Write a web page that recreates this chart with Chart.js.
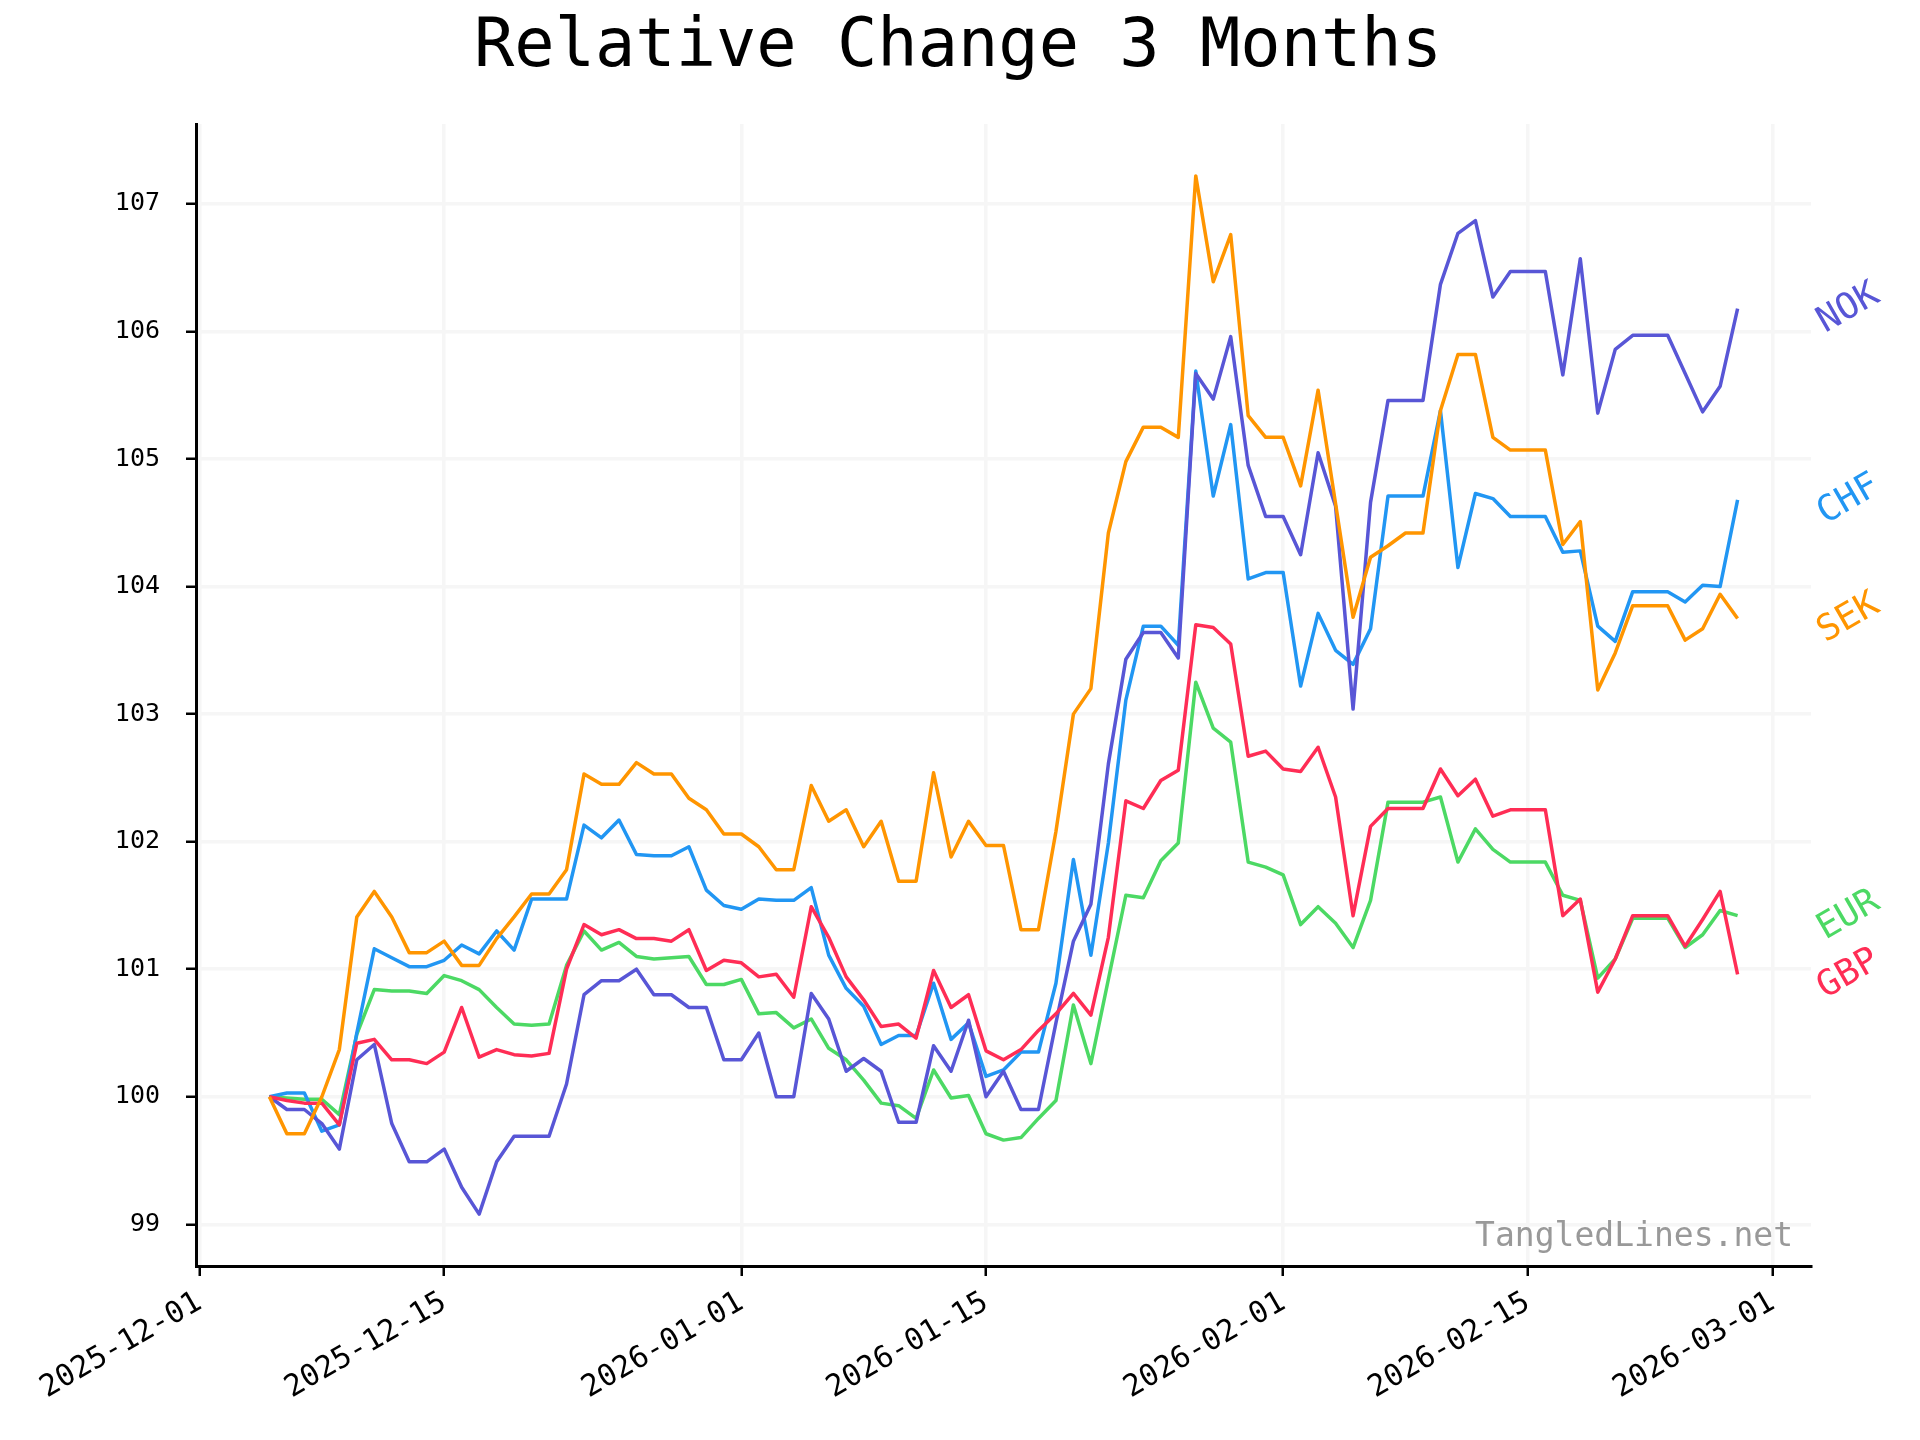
<!DOCTYPE html>
<html><head><meta charset="utf-8">
<script src="https://cdn.jsdelivr.net/npm/chart.js@4/dist/chart.umd.min.js"></script>
<style>html,body{margin:0;padding:0;background:#fff}canvas{display:block}</style>
</head><body>
<canvas id="c" width="1920" height="1440" style="width:1920px;height:1440px"></canvas>
<script>
// ---- data (daily, starting 2025-12-05) ----
const startDate = '2025-12-05';
const NOK = [100.0,99.9,99.9,99.79,99.59,100.29,100.41,99.79,99.49,99.49,99.59,99.29,99.08,99.49,99.69,99.69,99.69,100.10,100.80,100.91,100.91,101.0,100.80,100.80,100.70,100.70,100.29,100.29,100.50,100.0,100.0,100.81,100.61,100.20,100.30,100.20,99.80,99.80,100.40,100.20,100.60,100.0,100.20,99.90,99.90,100.58,101.22,101.51,102.61,103.43,103.64,103.64,103.44,105.67,105.47,105.96,104.95,104.55,104.55,104.25,105.05,104.63,103.04,104.66,105.46,105.46,105.46,106.37,106.77,106.87,106.27,106.47,106.47,106.47,105.66,106.57,105.36,105.86,105.97,105.97,105.97,105.67,105.37,105.57,106.18];
const CHF = [100.0,100.03,100.03,99.73,99.78,100.5,101.16,101.09,101.02,101.02,101.07,101.19,101.12,101.30,101.15,101.55,101.55,101.55,102.13,102.03,102.17,101.90,101.89,101.89,101.96,101.62,101.50,101.47,101.55,101.54,101.54,101.64,101.11,100.85,100.71,100.41,100.48,100.48,100.89,100.45,100.58,100.16,100.21,100.35,100.35,100.89,101.86,101.11,101.99,103.11,103.69,103.69,103.54,105.69,104.71,105.27,104.06,104.11,104.11,103.22,103.79,103.50,103.39,103.67,104.71,104.71,104.71,105.38,104.15,104.73,104.69,104.55,104.55,104.55,104.27,104.28,103.69,103.57,103.96,103.96,103.96,103.88,104.01,104.00,104.68];
const SEK = [100.0,99.71,99.71,100.0,100.37,101.41,101.61,101.41,101.13,101.13,101.22,101.03,101.03,101.24,101.41,101.59,101.59,101.78,102.53,102.45,102.45,102.62,102.53,102.53,102.34,102.25,102.06,102.06,101.96,101.78,101.78,102.44,102.16,102.25,101.96,102.16,101.69,101.69,102.54,101.88,102.16,101.97,101.97,101.31,101.31,102.08,103.0,103.2,104.42,104.98,105.25,105.25,105.17,107.22,106.39,106.76,105.34,105.17,105.17,104.79,105.54,104.65,103.76,104.23,104.32,104.42,104.42,105.38,105.82,105.82,105.17,105.07,105.07,105.07,104.33,104.51,103.19,103.48,103.85,103.85,103.85,103.58,103.67,103.94,103.75];
const EUR = [100.0,99.99,99.98,99.98,99.86,100.49,100.84,100.83,100.83,100.81,100.95,100.91,100.84,100.70,100.57,100.56,100.57,101.03,101.30,101.15,101.21,101.10,101.08,101.09,101.10,100.88,100.88,100.92,100.65,100.66,100.54,100.61,100.38,100.29,100.13,99.95,99.93,99.83,100.21,99.99,100.01,99.71,99.66,99.68,99.83,99.97,100.72,100.26,100.92,101.58,101.56,101.85,101.99,103.25,102.89,102.78,101.84,101.80,101.74,101.35,101.49,101.36,101.17,101.54,102.31,102.31,102.31,102.35,101.84,102.10,101.94,101.84,101.84,101.84,101.58,101.54,100.93,101.08,101.40,101.40,101.40,101.17,101.27,101.46,101.42];
const GBP = [100.0,99.97,99.95,99.95,99.78,100.42,100.45,100.29,100.29,100.26,100.35,100.70,100.31,100.37,100.33,100.32,100.34,101.0,101.35,101.27,101.31,101.24,101.24,101.22,101.31,100.99,101.07,101.05,100.94,100.96,100.78,101.49,101.25,100.94,100.76,100.55,100.57,100.46,100.99,100.70,100.80,100.36,100.29,100.37,100.52,100.65,100.81,100.64,101.25,102.32,102.26,102.48,102.56,103.70,103.68,103.55,102.67,102.71,102.57,102.55,102.74,102.35,101.42,102.12,102.26,102.26,102.26,102.57,102.36,102.49,102.20,102.25,102.25,102.25,101.42,101.55,100.82,101.08,101.42,101.42,101.42,101.18,101.39,101.61,100.96];

const yTicks = [99,100,101,102,103,104,105,106,107];
const xTickLabels = ['2025-12-01','2025-12-15','2026-01-01','2026-01-15','2026-02-01','2026-02-15','2026-03-01'];
const titleText = 'Relative Change 3 Months';
const watermark = 'TangledLines.net';

// ---- helpers ----
const DAY = 86400000;
const ORIGIN = Date.UTC(2025, 11, 1);
function dayOf(s){ const [y,m,d] = s.split('-').map(Number); return (Date.UTC(y,m-1,d) - ORIGIN) / DAY; }
const dates = [];
{ const [sy,sm,sd] = startDate.split('-').map(Number); const t0 = Date.UTC(sy, sm-1, sd); for (let i = 0; i < NOK.length; i++) dates.push(new Date(t0 + i*DAY).toISOString().slice(0,10)); }
const xs = dates.map(dayOf);
const xTickDays = xTickLabels.map(dayOf);

const series = [
  {name:'SEK', values:SEK, color:'#FF9500'},
  {name:'GBP', values:GBP, color:'#FF2D55'},
  {name:'NOK', values:NOK, color:'#5856D6'},
  {name:'CHF', values:CHF, color:'#2196F3'},
  {name:'EUR', values:EUR, color:'#4CD964'},
];

const allV = series.flatMap(s => s.values);
const vMin = Math.min(...allV), vMax = Math.max(...allV);
const yPad = (vMax - vMin) * 0.05;
const xPad = (xs[xs.length-1] - xs[0]) * 0.05;

const FONT = '"DejaVu Sans Mono", monospace';

const decor = {
  id: 'decor',
  afterDatasetsDraw(chart) {
    const {ctx, chartArea, scales} = chart;
    ctx.save();
    // title
    ctx.fillStyle = '#000';
    ctx.font = '67px ' + FONT;
    ctx.textAlign = 'center';
    ctx.textBaseline = 'middle';
    ctx.fillText(titleText, 958, 49);
    // watermark
    ctx.fillStyle = '#999999';
    ctx.font = '33px ' + FONT;
    ctx.textAlign = 'right';
    ctx.textBaseline = 'middle';
    ctx.fillText(watermark, chartArea.right - 18, chartArea.bottom - 29);
    // end labels
    const fs = 36, ang = 30 * Math.PI / 180;
    ctx.font = fs + 'px ' + FONT;
    series.forEach(s => {
      const last = s.values[s.values.length - 1];
      const y0 = scales.y.getPixelForValue(last);
      const x0 = chartArea.right + 1;
      const w = ctx.measureText(s.name).width, h = fs * 0.95;
      const W = w * Math.cos(ang) + h * Math.sin(ang);
      ctx.save();
      ctx.translate(x0 + W/2, y0);
      ctx.rotate(-ang);
      ctx.fillStyle = s.color;
      ctx.textAlign = 'center';
      ctx.textBaseline = 'middle';
      ctx.fillText(s.name, 0, 0);
      ctx.restore();
    });
    ctx.restore();
  }
};

new Chart(document.getElementById('c'), {
  type: 'line',
  data: {
    datasets: series.map(s => ({
      label: s.name,
      data: s.values.map((v,i) => ({x: xs[i], y: v})),
      borderColor: s.color,
      borderWidth: 3.5,
      pointRadius: 0,
      tension: 0,
      fill: false,
      borderJoinStyle: 'round',
      borderCapStyle: 'butt'
    }))
  },
  options: {
    responsive: false,
    animation: false,
    devicePixelRatio: 1,
    layout: { padding: { top: 124, right: 109, left: 0, bottom: 0 } },
    plugins: { legend: { display: false }, tooltip: { enabled: false }, title: { display: false } },
    scales: {
      x: {
        type: 'linear',
        min: xs[0] - xPad,
        max: xs[xs.length-1] + xPad,
        afterBuildTicks(scale) { scale.ticks = xTickDays.map(v => ({value: v})); },
        afterFit(scale) { scale.height = 174; },
        ticks: {
          autoSkip: false,
          maxRotation: 30, minRotation: 30,
          font: { family: FONT, size: 30 },
          color: '#000',
          padding: 9,
          callback: (v) => { const i = xTickDays.indexOf(v); return i >= 0 ? xTickLabels[i] : ''; }
        },
        grid: { color: '#f6f6f6', lineWidth: 3.5, tickColor: '#000', tickLength: 10, tickWidth: 2.5, drawTicks: true },
        border: { display: true, color: '#000', width: 3 }
      },
      y: {
        type: 'linear',
        min: vMin - yPad,
        max: vMax + yPad,
        afterBuildTicks(scale) { scale.ticks = yTicks.map(v => ({value: v})); },
        afterFit(scale) { scale.width = 196; },
        ticks: {
          font: { family: FONT, size: 25 },
          color: '#000',
          padding: 26,
          callback: (v) => String(v)
        },
        grid: { color: '#f6f6f6', lineWidth: 3.5, tickColor: '#000', tickLength: 10, tickWidth: 2.5 },
        border: { display: true, color: '#000', width: 3 }
      }
    }
  },
  plugins: [decor]
});
</script>
</body></html>
